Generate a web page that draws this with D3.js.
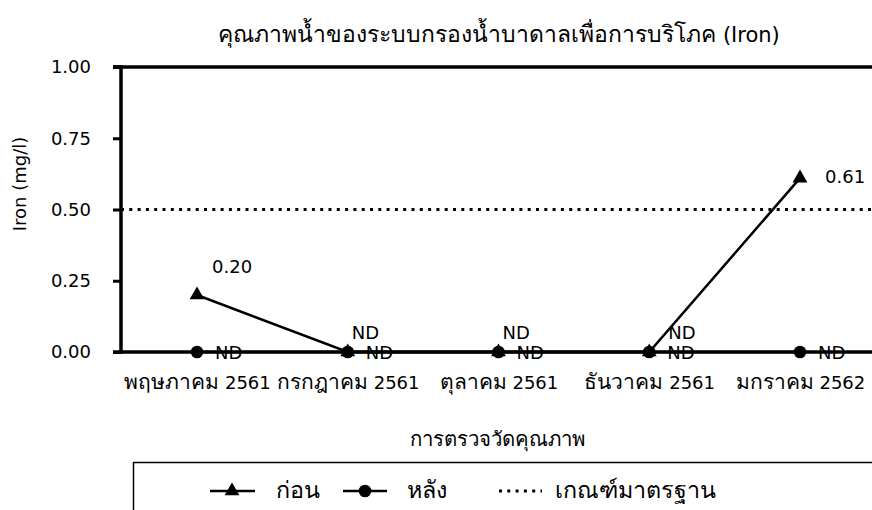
<!DOCTYPE html>
<html><head><meta charset="utf-8">
<script src="https://cdn.jsdelivr.net/npm/d3@7"></script>
<style>body{margin:0;background:#fff;} svg{display:block;font-family:"DejaVu Sans","Noto Sans",sans-serif;}</style>
</head><body>
<script>
const categories = ["พฤษภาคม 2561","กรกฎาคม 2561","ตุลาคม 2561","ธันวาคม 2561","มกราคม 2562"];
const before = [0.20, 0, 0, 0, 0.61];
const beforeLabels = ["0.20","ND","ND","ND","0.61"];
const after = [0, 0, 0, 0, 0];
const afterLabels = ["ND","ND","ND","ND","ND"];
const standard = 0.5;
const yTicks = [0, 0.25, 0.5, 0.75, 1.0];
const title = "คุณภาพน้ำของระบบกรองน้ำบาดาลเพื่อการบริโภค (Iron)";
const xTitle = "การตรวจวัดคุณภาพ";
const yTitle = "Iron (mg/l)";
const legendNames = ["ก่อน","หลัง","เกณฑ์มาตรฐาน"];

const FONT='"DejaVu Sans","Noto Sans",sans-serif';
const W=872,H=510;
const svg=d3.select("body").append("svg").attr("width",W).attr("height",H);
const x=d3.scalePoint().domain(categories).range([197,800]);
const y=d3.scaleLinear().domain([0,1]).range([352,67]);
const left=121, right=880;

// mixed Thai / Latin text: Thai runs get their own size (fallback Thai font is narrow)
function mixed(t, str, latinSize, thaiSize){
  t.text(null).attr("font-family",FONT);
  const runs=str.match(/[\u0E00-\u0E7F]+|[^\u0E00-\u0E7F]+/g)||[];
  runs.forEach(r=>{
    const th=/[\u0E00-\u0E7F]/.test(r);
    t.append("tspan").attr("font-size",th?thaiSize:latinSize).attr("data-th",th?1:0).text(r);
  });
}
function thaiSizeFor(str, latinSize, target){
  const t=svg.append("text");
  mixed(t,str,latinSize,20);
  let lw=0,tw=0;
  t.selectAll("tspan").each(function(){const w=this.getComputedTextLength(); if(+this.getAttribute("data-th")) tw+=w; else lw+=w;});
  t.remove();
  return tw>0 ? 20*(target-lw)/tw : 20;
}
function mtext(g, str, latinSize, thaiSize){const t=g.append("text"); mixed(t,str,latinSize,thaiSize); return t;}

// title
const tSize=thaiSizeFor(title,21,562);
mtext(svg,title,21,tSize).attr("x",499).attr("y",42).attr("text-anchor","middle");

// standard dotted line
svg.append("line").attr("x1",left).attr("x2",right).attr("y1",y(standard)).attr("y2",y(standard))
 .attr("stroke","#000").attr("stroke-width",3).attr("stroke-dasharray","3,5.3");

// y axis
const yAxis=d3.axisLeft(y).tickValues(yTicks).tickFormat(d3.format(".2f")).tickSize(8).tickPadding(22);
const gy=svg.append("g").attr("transform",`translate(${left},0)`).call(yAxis);
gy.attr("font-family",FONT);
gy.select(".domain").attr("stroke-width",3.5).attr("d",`M-8,${y(1)}H0V${y(0)}H-8`);
gy.selectAll(".tick line").attr("stroke-width",3);
gy.selectAll(".tick text").attr("font-size",18).attr("fill","#000");
// top frame
svg.append("line").attr("x1",left-8).attr("x2",right).attr("y1",y(1)).attr("y2",y(1)).attr("stroke","#000").attr("stroke-width",3.5);

// x axis labels
const catThai=thaiSizeFor(categories[0],18,144);
const gx=svg.append("g").attr("transform",`translate(0,${y(0)})`).call(d3.axisBottom(x).tickSize(0).tickPadding(30));
gx.attr("font-family",FONT);
gx.select(".domain").attr("stroke","none");
gx.selectAll(".tick text").each(function(d){ mixed(d3.select(this),d,18,catThai); }).attr("fill","#000");

// lines
const line=d3.line().x((d,i)=>x(categories[i])).y(d=>y(d));
svg.append("path").datum(after).attr("d",line).attr("fill","none").attr("stroke","#000").attr("stroke-width",2.5);
svg.append("path").datum(before).attr("d",line).attr("fill","none").attr("stroke","#000").attr("stroke-width",2.5);

// after markers
svg.selectAll(".ca").data(after).join("circle").attr("cx",(d,i)=>x(categories[i])).attr("cy",d=>y(d)).attr("r",6.3).attr("fill","#000");
// before markers
const tri=d3.symbol().type(d3.symbolTriangle).size(95);
svg.selectAll(".tb").data(before).join("path").attr("d",tri)
 .attr("transform",(d,i)=>`translate(${x(categories[i])},${y(d)})`).attr("fill","#000");

// labels after (right of point)
svg.selectAll(".la").data(after).join("text").attr("x",(d,i)=>x(categories[i])+18).attr("y",d=>y(d)+7)
 .attr("font-size",18).text((d,i)=>afterLabels[i]);
// labels before
const bdx=[15,4,4,19,25], bdy=[-22,-13,-13,-13,5];
svg.selectAll(".lb").data(before).join("text")
 .attr("x",(d,i)=>x(categories[i])+bdx[i])
 .attr("y",(d,i)=>y(d)+bdy[i])
 .attr("font-size",18)
 .text((d,i)=>beforeLabels[i]);

// x axis line drawn over labels
svg.append("line").attr("x1",left).attr("x2",right).attr("y1",y(0)).attr("y2",y(0)).attr("stroke","#000").attr("stroke-width",3.5);

// axis titles
const xtSize=thaiSizeFor(xTitle,17,177);
mtext(svg,xTitle,17,xtSize).attr("x",497).attr("y",446).attr("text-anchor","middle");
svg.append("text").attr("transform",`translate(26,184) rotate(-90)`).attr("text-anchor","middle").attr("font-size",18).text(yTitle);

// legend
svg.append("rect").attr("x",133.5).attr("y",462.5).attr("width",760).attr("height",60).attr("fill","none").attr("stroke","#000").attr("stroke-width",1.5);
const ly=491;
const lg=svg.append("g");
const legThai=thaiSizeFor(legendNames[2],17,162);
lg.append("line").attr("x1",210).attr("x2",255).attr("y1",ly).attr("y2",ly).attr("stroke","#000").attr("stroke-width",2.5);
lg.append("path").attr("d",tri).attr("transform",`translate(232,${ly})`).attr("fill","#000");
mtext(lg,legendNames[0],17,legThai).attr("x",276).attr("y",ly+7);
lg.append("line").attr("x1",343).attr("x2",387).attr("y1",ly).attr("y2",ly).attr("stroke","#000").attr("stroke-width",2.5);
lg.append("circle").attr("cx",365).attr("cy",ly).attr("r",6.3).attr("fill","#000");
mtext(lg,legendNames[1],17,legThai).attr("x",407).attr("y",ly+7);
lg.append("line").attr("x1",499).attr("x2",542).attr("y1",ly).attr("y2",ly).attr("stroke","#000").attr("stroke-width",3).attr("stroke-dasharray","3,5.3");
mtext(lg,legendNames[2],17,legThai).attr("x",555).attr("y",ly+7);
</script>
</body></html>
